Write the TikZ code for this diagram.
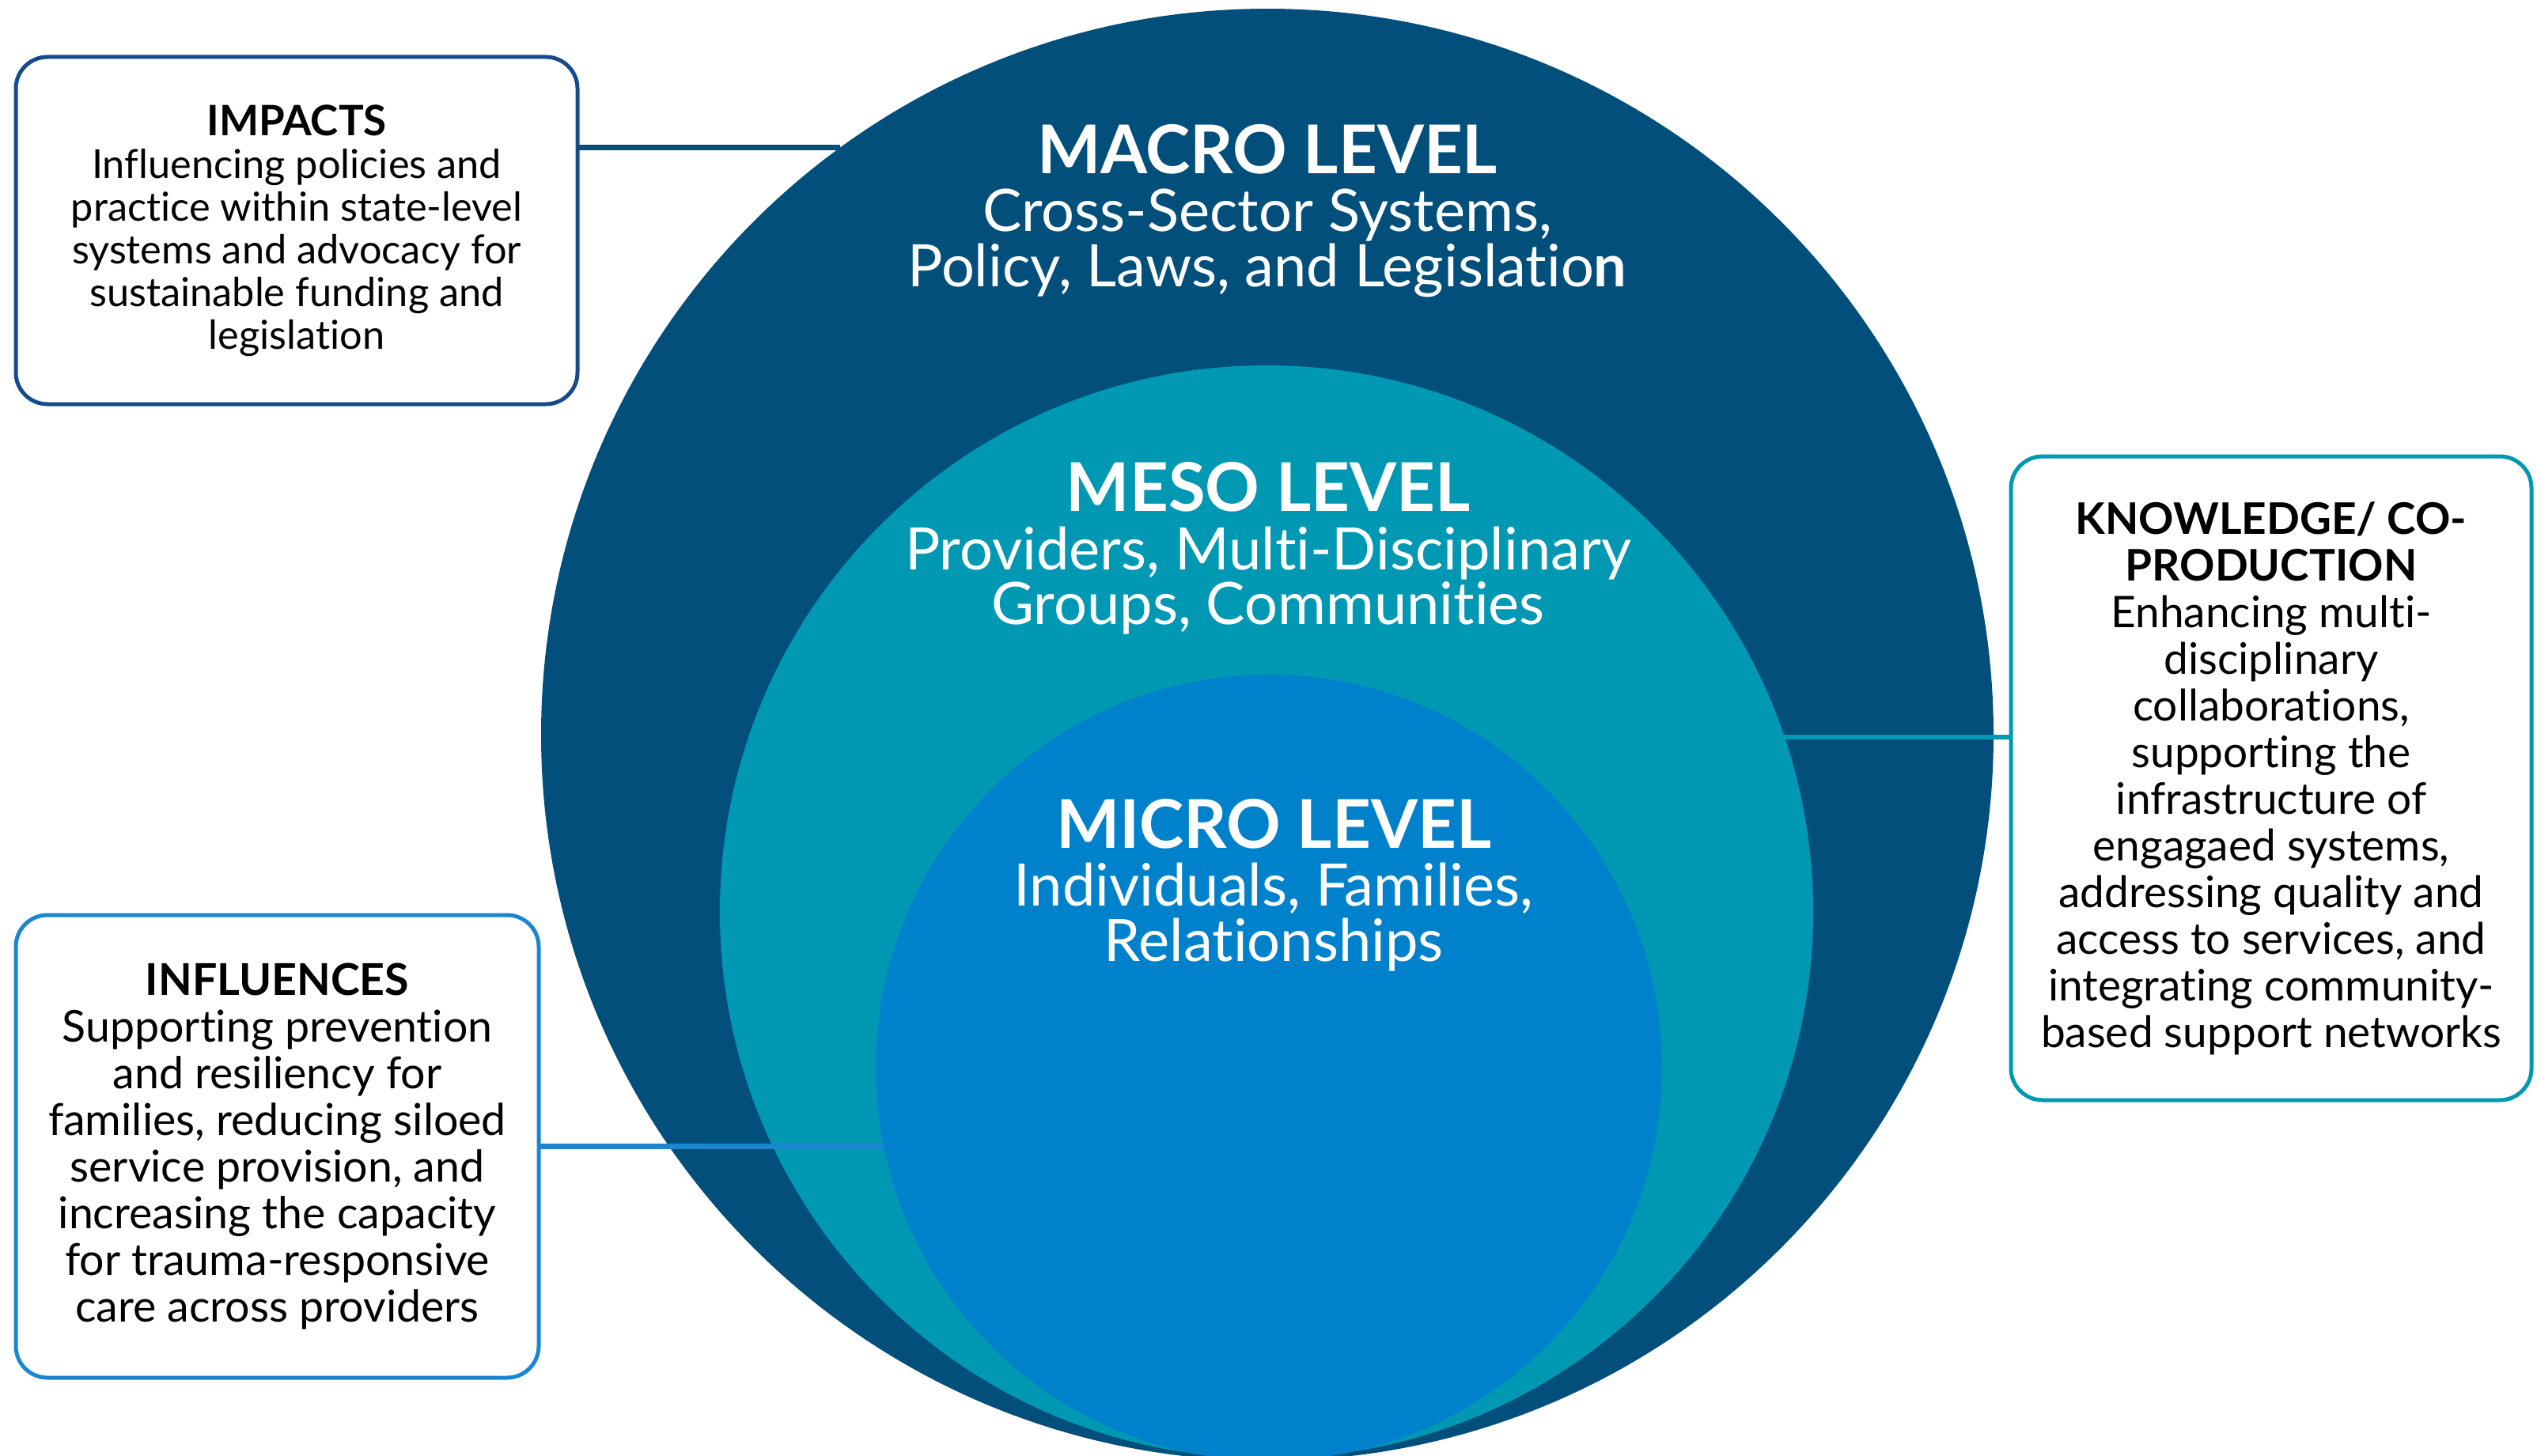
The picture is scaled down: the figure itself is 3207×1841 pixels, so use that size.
\documentclass[tikz,border=0pt]{standalone}
\usepackage{fontspec}
\setmainfont{Lato}[Ligatures={NoCommon,NoRare,NoDiscretionary}]
\definecolor{macroc}{RGB}{1,79,122}
\definecolor{mesoc}{RGB}{0,152,179}
\definecolor{microc}{RGB}{0,129,204}
\definecolor{impc}{RGB}{22,74,138}
\definecolor{inflc}{RGB}{26,134,208}
\tikzset{
  levelcircle/.style={circle, inner sep=0pt, outer sep=0pt, draw=none},
  infobox/.style={rounded corners=40pt, line width=5pt, fill=white, align=center, inner sep=0pt, outer sep=0pt, text=black},
  conn/.style={line width=6.5pt},
  ltitle/.style={anchor=base, text=white, font=\bfseries\fontsize{85}{85}\selectfont},
  lsub/.style={anchor=base, text=white, font=\fontsize{74}{74}\selectfont}
}
\begin{document}
\begin{tikzpicture}[x=1pt,y=-1pt]
\useasboundingbox (0,0) rectangle (3207,1841);
% boxes
\node[infobox, draw=impc, minimum width=710pt, minimum height=439pt, font=\fontsize{50.5}{54}\selectfont] (impacts) at (375,291.5)
  {{\fontsize{53}{54}\selectfont\bfseries IMPACTS}\\Influencing policies and\\practice within state-level\\systems and advocacy for\\sustainable funding and\\legislation};
\node[infobox, draw=mesoc, minimum width=658pt, minimum height=814pt, font=\fontsize{55}{59}\selectfont] (knowledge) at (2871,984)
  {\textbf{KNOWLEDGE/ CO-}\\\textbf{PRODUCTION}\\Enhancing multi-\\disciplinary\\collaborations,\\supporting the\\infrastructure of\\engagaed systems,\\addressing quality and\\access to services, and\\integrating community-\\based support networks};
\node[infobox, draw=inflc, minimum width=661pt, minimum height=585pt, font=\fontsize{55.5}{59}\selectfont] (influences) at (350.5,1449.5)
  {\textbf{INFLUENCES}\\Supporting prevention\\and resiliency for\\families, reducing siloed\\service provision, and\\increasing the capacity\\for trauma-responsive\\care across providers};
% circles and connectors
\node[levelcircle, fill=macroc, minimum size=1836pt] (macro) at (1602,929) {};
\draw[conn, draw=macroc] (macro.126.4) -- (macro.126.4 -| impacts.east);
\draw[conn, draw=mesoc] (knowledge.west |- 0,932) coordinate (kc) -- (kc -| macro.center) ;
\node[levelcircle, fill=mesoc, minimum size=1382pt] (meso) at (1601,1153) {};
\draw[conn, draw=inflc] (influences.east) -- (influences.east -| meso.center);
\node[levelcircle, fill=microc, minimum size=994pt] (micro) at (1604,1350) {};
% level labels
\node[ltitle] (macroT) at (1602,219) {MACRO LEVEL};
\node[lsub] (macroS1) at (1602,292) {Cross-Sector Systems,};
\node[lsub] (macroS2) at (1602,362) {Policy, Laws, and Legislatio\textbf{n}};
\node[ltitle] (mesoT) at (1603,646) {MESO LEVEL};
\node[lsub] (mesoS1) at (1603,720) {Providers, Multi-Disciplinary};
\node[lsub] (mesoS2) at (1603,789) {Groups, Communities};
\node[ltitle] (microT) at (1610,1072) {MICRO LEVEL};
\node[lsub] (microS1) at (1610,1145) {Individuals, Families,};
\node[lsub] (microS2) at (1610,1215) {Relationships};
\end{tikzpicture}
\end{document}
